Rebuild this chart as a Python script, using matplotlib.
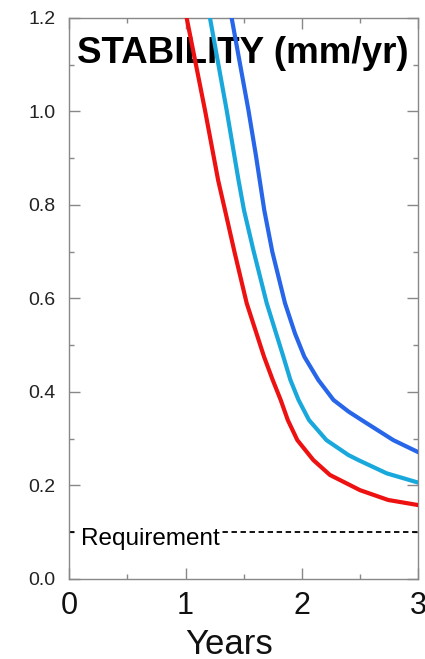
import matplotlib
matplotlib.use("Agg")
import matplotlib.pyplot as plt
from matplotlib.ticker import MultipleLocator

# values
red_x = [1.01, 1.167, 1.28, 1.339, 1.42, 1.525, 1.674, 1.748, 1.817, 1.878, 1.96, 2.097, 2.24, 2.498, 2.74, 3.0]
red_y = [1.2, 1.003, 0.853, 0.789, 0.70, 0.590, 0.4755, 0.426, 0.383, 0.340, 0.297, 0.2545, 0.2225, 0.190, 0.169, 0.158]

cyan_x = [1.21, 1.353, 1.455, 1.502, 1.582, 1.697, 1.84, 1.90, 1.97, 2.06, 2.21, 2.398, 2.483, 2.727, 3.0]
cyan_y = [1.2, 1.003, 0.853, 0.789, 0.704, 0.590, 0.4755, 0.426, 0.383, 0.340, 0.297, 0.2652, 0.2545, 0.226, 0.206]

blue_x = [1.396, 1.54, 1.605, 1.676, 1.745, 1.854, 1.94, 2.02, 2.14, 2.27, 2.40, 2.512, 2.784, 3.0]
blue_y = [1.2, 1.003, 0.905, 0.789, 0.70, 0.590, 0.525, 0.4755, 0.4257, 0.383, 0.358, 0.340, 0.297, 0.271]

requirement = 0.1

plt.rcParams['font.family'] = ['Liberation Sans', 'DejaVu Sans']

fig = plt.figure(figsize=(4.25, 6.59), dpi=100)
ax = fig.add_axes([0.1624, 0.1214, 0.8223, 0.8513])

ax.plot(red_x, red_y, color='#ee1111', lw=3.0, solid_joinstyle='round', zorder=3)
ax.plot(cyan_x, cyan_y, color='#19a8dc', lw=3.0, solid_joinstyle='round', zorder=3)
ax.plot(blue_x, blue_y, color='#2766e8', lw=3.0, solid_joinstyle='round', zorder=3)

ax.axhline(requirement, color='black', lw=1.3, linestyle=(0, (3, 2)), zorder=2)
ax.text(0.1, 0.085, "Requirement", fontsize=17.5, va='center', ha='left',
        bbox=dict(facecolor='white', edgecolor='none', pad=1.5), zorder=2.5)

ax.text(0.07, 1.125, "STABILITY (mm/yr)", fontsize=26.5, fontweight='bold',
        va='center', ha='left', zorder=1)

ax.set_xlim(0, 3)
ax.set_ylim(0, 1.2)
ax.xaxis.set_major_locator(MultipleLocator(1))
ax.xaxis.set_minor_locator(MultipleLocator(0.5))
ax.yaxis.set_major_locator(MultipleLocator(0.2))
ax.yaxis.set_minor_locator(MultipleLocator(0.1))
ax.yaxis.set_major_formatter(plt.FormatStrFormatter('%.1f'))

for s in ax.spines.values():
    s.set_color('#888888')
    s.set_linewidth(1.0)

ax.tick_params(which='both', direction='in', top=True, right=True, color='#888888')
ax.tick_params(which='major', length=8, width=1.0)
ax.tick_params(which='minor', length=3.5, width=1.0)
ax.tick_params(axis='y', labelsize=14, pad=10, labelcolor='#222222')
ax.tick_params(axis='x', labelsize=22, pad=9, labelcolor='#111111')

ax.text(0.459, -0.133, "Years", transform=ax.transAxes, fontsize=25,
        ha='center', va='baseline', color='#111111')

fig.savefig("out.png", dpi=100)
